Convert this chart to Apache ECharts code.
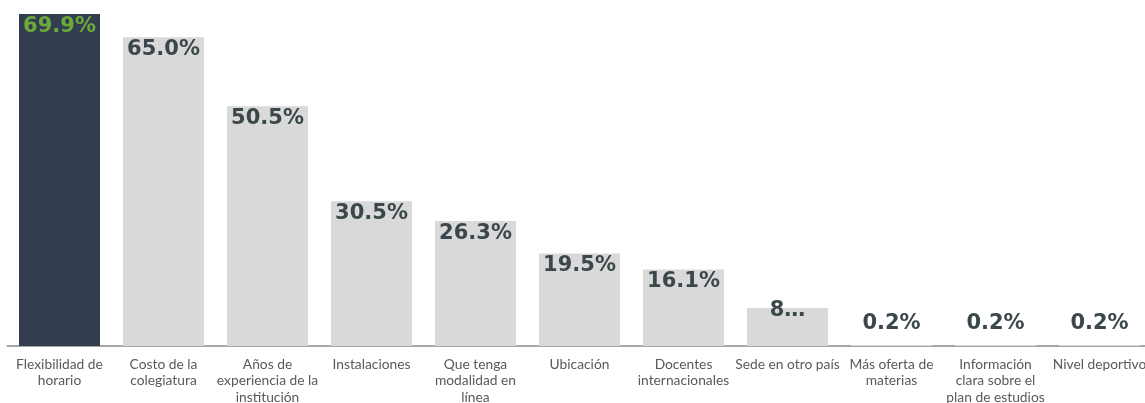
<!DOCTYPE html>
<html>
<head>
<meta charset="utf-8">
<script src="https://cdn.jsdelivr.net/npm/echarts@6/dist/echarts.min.js"></script>
<style>
  html, body { margin: 0; padding: 0; background: #fff; overflow: hidden; }
  #main { width: 1145px; height: 403px; }
</style>
</head>
<body>
<div id="main"></div>
<script>
// categorias y valores (%)
var categories = ['Flexibilidad de\nhorario', 'Costo de la\ncolegiatura', 'Años de\nexperiencia de la\ninstitución',
  'Instalaciones', 'Que tenga\nmodalidad en\nlínea', 'Ubicación', 'Docentes\ninternacionales',
  'Sede en otro país', 'Más oferta de\nmaterias', 'Información\nclara sobre el\nplan de estudios', 'Nivel deportivo'];
var values = [69.9, 65.0, 50.5, 30.5, 26.3, 19.5, 16.1, 8.0, 0.2, 0.2, 0.2];

var myChart = echarts.init(document.getElementById('main'));

var seriesData = values.map(function (v, i) {
  var item = { value: v, itemStyle: { color: i === 0 ? '#333d4f' : '#d9d9d9' } };
  if (i === 0) {
    item.label = { color: '#6aab3c' };
  } else if (v < 1) {
    item.label = { position: 'top', distance: 11 };
  } else if (v < 10) {
    // la etiqueta no cabe y se recorta
    item.label = { position: 'top', distance: -13, width: 38, overflow: 'truncate', ellipsis: '…' };
  }
  return item;
});

var option = {
  animation: false,
  grid: { left: 7.5, width: 1144, top: 14, bottom: 57, containLabel: false, outerBoundsMode: 'none' },
  xAxis: {
    type: 'category',
    data: categories,
    axisTick: { show: false },
    axisLine: { lineStyle: { color: '#a6a6a6', width: 2 } },
    axisLabel: {
      interval: 0,
      color: '#595959',
      fontFamily: 'Lato',
      fontSize: 13.8,
      lineHeight: 16.5,
      margin: 10
    }
  },
  yAxis: { type: 'value', min: 0, max: 69.9, show: false, splitLine: { show: false } },
  series: [{
    type: 'bar',
    data: seriesData,
    barWidth: 81,
    label: {
      show: true,
      position: 'insideTop',
      distance: 2,
      color: '#3b474b',
      fontFamily: 'DejaVu Sans',
      fontWeight: 'bold',
      fontSize: 21,
      formatter: function (p) { return p.value.toFixed(1) + '%'; }
    }
  }]
};
myChart.setOption(option);
</script>
</body>
</html>
